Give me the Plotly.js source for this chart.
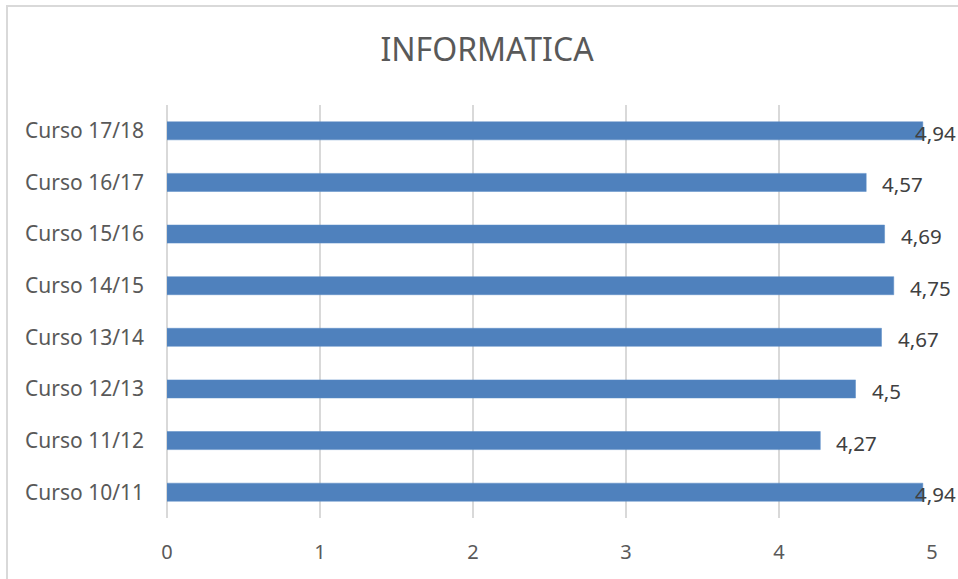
<!DOCTYPE html>
<html>
<head>
<meta charset="utf-8">
<script src="https://cdn.plot.ly/plotly-3.0.1.min.js"></script>
<style>
  html, body { margin: 0; padding: 0; background: #ffffff; overflow: hidden; }
  #frame { position: absolute; left: 6px; top: 5px; width: 1000px; height: 1000px; border: 2px solid #d9d9d9; box-sizing: border-box; pointer-events: none; }
  #chart { position: absolute; left: 0; top: 0; width: 958px; height: 579px; }
</style>
</head>
<body>
<div id="frame"></div>
<div id="chart"></div>
<script>
const categories = ["Curso 10/11", "Curso 11/12", "Curso 12/13", "Curso 13/14", "Curso 14/15", "Curso 15/16", "Curso 16/17", "Curso 17/18"];
const values = [4.94, 4.27, 4.5, 4.67, 4.75, 4.69, 4.57, 4.94];
const labels = ["4,94", "4,27", "4,5", "4,67", "4,75", "4,69", "4,57", "4,94"];
const xTicks = [0, 1, 2, 3, 4, 5];

const W = 958, H = 579;
const margin = { l: 167, r: 26, t: 105, b: 61, pad: 0 };
const xMax = 5;
const labelFont = { family: "Noto Sans, sans-serif", size: 20.5, color: "#404040" };

const ctx = document.createElement("canvas").getContext("2d");
ctx.font = "20.5px 'Noto Sans'";
const plotW = W - margin.l - margin.r;

const annotations = values.map((v, i) => {
  const barEnd = margin.l + v / xMax * plotW;
  const tw = ctx.measureText(labels[i]).width;
  const gap = 14;
  const fits = barEnd + gap + tw <= W;
  return {
    x: v, y: categories[i], xref: "x", yref: "y",
    text: labels[i], showarrow: false,
    xanchor: fits ? "left" : "right",
    xshift: fits ? gap : (W - barEnd),
    yshift: -2,
    font: labelFont
  };
});

const trace = {
  type: "bar",
  orientation: "h",
  x: values,
  y: categories,
  marker: { color: "#4f81bd", line: { color: "#5b8cc7", width: 0.5 } },
  hoverinfo: "none"
};

const layout = {
  width: W, height: H,
  margin: margin,
  paper_bgcolor: "rgba(0,0,0,0)",
  plot_bgcolor: "rgba(0,0,0,0)",
  showlegend: false,
  bargap: 0.65,
  title: {
    text: "INFORMATICA",
    font: { family: "Noto Sans, sans-serif", size: 32, color: "#595959" },
    x: 487 / W, xref: "container", xanchor: "center",
    y: 1 - 50 / H, yref: "container", yanchor: "middle"
  },
  xaxis: {
    range: [0, xMax],
    tickvals: xTicks,
    ticktext: xTicks.map(String),
    showgrid: true, gridcolor: "#d9d9d9", gridwidth: 1.5,
    zeroline: true, zerolinecolor: "#d9d9d9", zerolinewidth: 1.5,
    showline: false, ticks: "",
    ticklabelstandoff: 20,
    tickfont: { family: "Noto Sans, sans-serif", size: 20, color: "#595959" },
    fixedrange: true
  },
  yaxis: {
    type: "category",
    showgrid: false, zeroline: false, showline: false, ticks: "",
    ticklabelstandoff: 22,
    tickfont: { family: "Noto Sans, sans-serif", size: 21, color: "#595959" },
    fixedrange: true
  },
  annotations: annotations
};

Plotly.newPlot("chart", [trace], layout, { displayModeBar: false, staticPlot: true });
</script>
</body>
</html>
